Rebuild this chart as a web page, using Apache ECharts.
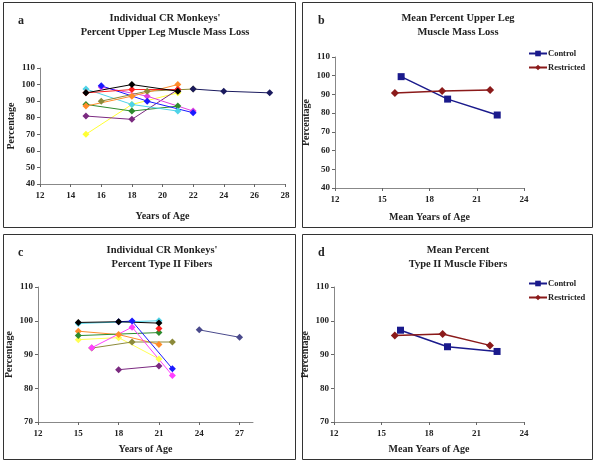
<!DOCTYPE html>
<html><head><meta charset="utf-8">
<script src="https://cdn.jsdelivr.net/npm/echarts@6/dist/echarts.min.js"></script>
<style>html,body{margin:0;padding:0;background:#fff}#c{width:600px;height:461px}</style>
</head><body><div id="c"></div>
<script>
// Panel a: individual CR monkeys, % upper leg muscle mass loss  [age, percent]
const aBlack   = [[15,95],[18,100],[21,96]];
const aRed     = [[15,95],[18,97],[21,97]];
const aBlue    = [[16,99.3],[19,90],[22,83]];
const aMagenta = [[16,98.5],[19,93],[22,84]];
const aCyan    = [[15,97.3],[18,88],[21,84]];
const aGreen   = [[15,88],[18,84],[21,87]];
const aPurple  = [[15,81],[18,79],[21,97]];
const aYellow  = [[15,70],[18,88],[21,95]];
const aOlive   = [[16,90],[19,96],[22,97.3]];
const aOrange  = [[15,87],[18,93],[21,100]];
const aNavy    = [[22,97.3],[24,96],[27,95]];
// Panel b: means
const bControl    = [[16.2,99.5],[19.15,87.5],[22.3,79]];
const bRestricted = [[15.8,90.8],[18.8,91.8],[21.85,92.4]];
// Panel c: individual CR monkeys, % type II fibers
const cCyan    = [[15,99.2],[21,100]];
const cBlack   = [[15,99.5],[18,99.7],[21,99.3]];
const cBlue    = [[18,99.7],[19,99.9],[22,85.8]];
const cRed     = [[21,97.7]];
const cGreen   = [[15,95.6],[21,96.5]];
const cOrange  = [[15,96.9],[18,95.9],[21,93]];
const cYellow  = [[15,94.4],[18,95],[21,88.7]];
const cMagenta = [[16,92],[19,98.1],[22,83.8]];
const cOlive   = [[16,91.9],[19,93.7],[22,93.7]];
const cPurple  = [[18,85.5],[21,86.6]];
const cNavy    = [[24,97.3],[27,95.1]];
// Panel d: means
const dControl    = [[16.2,97.2],[19.17,92.3],[22.3,90.9]];
const dRestricted = [[15.84,95.6],[18.86,96.1],[21.85,92.7]];
// Tick labels
const cXTicks = [12,15,18,21,24,27];

const FONT = 'Liberation Serif';
const chart = echarts.init(document.getElementById('c'));

function xAx(grid, min, max, interval, name, gap, extra) {
  return Object.assign({
    type: 'value', gridIndex: grid, min: min, max: max, interval: interval,
    name: name, nameLocation: 'middle', nameGap: gap,
    nameTextStyle: {fontFamily: FONT, fontWeight: 'bold', fontSize: 10, color: '#222'},
    splitLine: {show: false},
    axisLine: {onZero: false, lineStyle: {color: '#888', width: 1}},
    axisTick: {inside: false, length: 3, lineStyle: {color: '#666'}},
    axisLabel: {fontFamily: FONT, fontWeight: 'bold', fontSize: 9, color: '#222', margin: 7}
  }, extra || {});
}
function yAx(grid, min, max, interval) {
  return {
    type: 'value', gridIndex: grid, min: min, max: max, interval: interval,
    name: 'Percentage', nameLocation: 'middle', nameGap: 24, nameRotate: 90,
    nameTextStyle: {fontFamily: FONT, fontWeight: 'bold', fontSize: 10, color: '#222'},
    splitLine: {show: false},
    axisLine: {show: true, lineStyle: {color: '#888', width: 1}},
    axisTick: {show: true, length: 3, lineStyle: {color: '#666'}},
    axisLabel: {fontFamily: FONT, fontWeight: 'bold', fontSize: 9, color: '#222', margin: 5}
  };
}
function ser(name, data, color, xi, sym, size, lw) {
  return {
    type: 'line', name: name, data: data, xAxisIndex: xi, yAxisIndex: xi,
    symbol: sym || 'diamond', symbolSize: size || 7, showSymbol: true,
    itemStyle: {color: color}, lineStyle: {color: color, width: lw || 1},
    animation: false, z: 3
  };
}

const titleStyle = {fontFamily: FONT, fontWeight: 'bold', fontSize: 10.5, color: '#222', lineHeight: 14};
const letterStyle = {fontFamily: FONT, fontWeight: 'bold', fontSize: 12, color: '#222'};
const legendText = {fontFamily: FONT, fontWeight: 'bold', fontSize: 8.5, color: '#222', padding: [0, 0, 0, -4]};

chart.setOption({
  animation: false,
  title: [
    {text: 'Individual CR Monkeys\'\nPercent Upper Leg Muscle Mass Loss', left: 160, top: 6, textAlign: 'center', textStyle: titleStyle},
    {text: 'Mean Percent Upper Leg\nMuscle Mass Loss', left: 453, top: 6, textAlign: 'center', textStyle: titleStyle},
    {text: 'Individual CR Monkeys\'\nPercent Type II Fibers', left: 157, top: 238, textAlign: 'center', textStyle: titleStyle},
    {text: 'Mean Percent\nType II Muscle Fibers', left: 453, top: 238, textAlign: 'center', textStyle: titleStyle},
    {text: 'a', left: 13, top: 10, textStyle: letterStyle},
    {text: 'b', left: 313, top: 10, textStyle: letterStyle},
    {text: 'c', left: 13, top: 242, textStyle: letterStyle},
    {text: 'd', left: 313, top: 242, textStyle: letterStyle}
  ],
  graphic: [
    {type: 'rect', shape: {x: 3.5, y: 2.5, width: 292, height: 225}, style: {fill: 'none', stroke: '#333', lineWidth: 1}},
    {type: 'rect', shape: {x: 302.5, y: 2.5, width: 290, height: 225}, style: {fill: 'none', stroke: '#333', lineWidth: 1}},
    {type: 'rect', shape: {x: 3.5, y: 234.5, width: 292, height: 225}, style: {fill: 'none', stroke: '#333', lineWidth: 1}},
    {type: 'rect', shape: {x: 302.5, y: 234.5, width: 290, height: 225}, style: {fill: 'none', stroke: '#333', lineWidth: 1}}
  ],
  legend: [
    {data: ['Control', 'Restricted'], orient: 'vertical', left: 523, top: 44, itemWidth: 18, itemHeight: 7, itemGap: 5,
     textStyle: legendText, selectedMode: false},
    {data: ['Control ', 'Restricted '], orient: 'vertical', left: 523, top: 274, itemWidth: 18, itemHeight: 7, itemGap: 5,
     textStyle: legendText, selectedMode: false}
  ],
  grid: [
    {left: 40, top: 68, width: 245, height: 116},
    {left: 335, top: 57, width: 189, height: 131},
    {left: 38, top: 287, width: 215, height: 135},
    {left: 334, top: 287, width: 190, height: 135}
  ],
  xAxis: [
    xAx(0, 12, 28, 2, 'Years of Age', 27),
    xAx(1, 12, 24, 3, 'Mean Years of Age', 24),
    xAx(2, 12, 28, 3, 'Years of Age', 22, {
      axisTick: {length: 3, lineStyle: {color: '#666'}, customValues: cXTicks},
      axisLabel: {fontFamily: FONT, fontWeight: 'bold', fontSize: 9, color: '#222', margin: 7, customValues: cXTicks}
    }),
    xAx(3, 12, 24, 3, 'Mean Years of Age', 22)
  ],
  yAxis: [
    yAx(0, 40, 110, 10),
    yAx(1, 40, 110, 10),
    yAx(2, 70, 110, 10),
    yAx(3, 70, 110, 10)
  ],
  series: [
    ser('a-yellow', aYellow, '#ffff33', 0),
    ser('a-purple', aPurple, '#7b2a80', 0),
    ser('a-green', aGreen, '#2e8b2e', 0),
    ser('a-cyan', aCyan, '#4fd3e8', 0),
    ser('a-magenta', aMagenta, '#e040e0', 0),
    ser('a-blue', aBlue, '#1a1aff', 0),
    ser('a-olive', aOlive, '#8c8a3a', 0),
    ser('a-orange', aOrange, '#ff8c2a', 0),
    ser('a-red', aRed, '#ff2020', 0),
    ser('a-navy', aNavy, '#1a1a5e', 0),
    ser('a-black', aBlack, '#000000', 0),
    ser('Control', bControl, '#1a1a8c', 1, 'rect', 7, 1.5),
    ser('Restricted', bRestricted, '#8b1a1a', 1, 'diamond', 8, 1.5),
    ser('c-cyan', cCyan, '#4fd3e8', 2),
    ser('c-yellow', cYellow, '#ffff55', 2),
    ser('c-orange', cOrange, '#ff8c2a', 2),
    ser('c-green', cGreen, '#2e8b2e', 2),
    ser('c-red', cRed, '#ff2020', 2),
    ser('c-olive', cOlive, '#8c8a3a', 2),
    ser('c-magenta', cMagenta, '#ff40ff', 2),
    ser('c-purple', cPurple, '#7b2a80', 2),
    ser('c-blue', cBlue, '#1a1aff', 2),
    ser('c-black', cBlack, '#000000', 2),
    ser('c-navy', cNavy, '#4a4a8c', 2),
    ser('Control ', dControl, '#1a1a8c', 3, 'rect', 7, 1.5),
    ser('Restricted ', dRestricted, '#8b1a1a', 3, 'diamond', 8, 1.5)
  ]
});
</script></body></html>
